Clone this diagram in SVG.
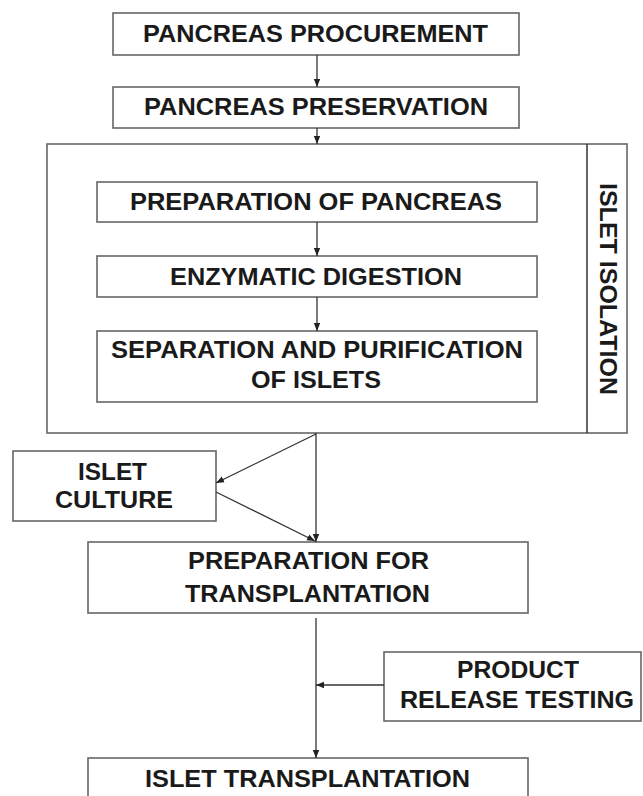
<svg xmlns="http://www.w3.org/2000/svg" width="643" height="796" viewBox="0 0 643 796">
<defs>
<style>
.box{fill:#fff;stroke:#666;stroke-width:1.6}
.t{font-family:"Liberation Sans",Arial,sans-serif;font-weight:bold;font-size:23px;fill:#1a1a1a}
.c{fill:none;stroke:#333;stroke-width:1.3}
</style>
<marker id="ah" markerUnits="userSpaceOnUse" markerWidth="8" markerHeight="8" viewBox="0 0 8 8" refX="8" refY="4" orient="auto">
<path d="M0,0.8 L8,4 L0,7.2 Z" fill="#222"/>
</marker>
</defs>
<rect width="643" height="796" fill="#fff"/>
<g id="procurement"><rect class="box" x="113" y="13" width="406" height="42"/><text class="t" x="143" y="42" textLength="345" lengthAdjust="spacingAndGlyphs">PANCREAS PROCUREMENT</text></g>
<g id="preservation"><rect class="box" x="113" y="87" width="406" height="41"/><text class="t" x="144" y="115" textLength="344" lengthAdjust="spacingAndGlyphs">PANCREAS PRESERVATION</text></g>
<g id="islet-isolation"><rect class="box" x="47" y="144" width="580" height="289"/><line x1="587" y1="144" x2="587" y2="433" stroke="#333" stroke-width="1.5"/><text class="t" transform="translate(600,183) rotate(90)" x="0" y="0" textLength="212" lengthAdjust="spacingAndGlyphs">ISLET ISOLATION</text></g>
<g id="prep-pancreas"><rect class="box" x="97" y="182" width="440" height="40"/><text class="t" x="130" y="210" textLength="372" lengthAdjust="spacingAndGlyphs">PREPARATION OF PANCREAS</text></g>
<g id="digestion"><rect class="box" x="97" y="256" width="440" height="41"/><text class="t" x="170" y="285" textLength="292" lengthAdjust="spacingAndGlyphs">ENZYMATIC DIGESTION</text></g>
<g id="separation"><rect class="box" x="97" y="331" width="440" height="71"/><text class="t" x="111" y="358" textLength="412" lengthAdjust="spacingAndGlyphs">SEPARATION AND PURIFICATION</text><text class="t" x="251" y="388" textLength="130" lengthAdjust="spacingAndGlyphs">OF ISLETS</text></g>
<g id="culture"><rect class="box" x="13" y="451" width="203" height="70"/><text class="t" x="78" y="480" textLength="69" lengthAdjust="spacingAndGlyphs">ISLET</text><text class="t" x="55" y="508" textLength="118" lengthAdjust="spacingAndGlyphs">CULTURE</text></g>
<g id="prep-transplant"><rect class="box" x="88" y="542" width="440" height="71"/><text class="t" x="188" y="569" textLength="241" lengthAdjust="spacingAndGlyphs">PREPARATION FOR</text><text class="t" x="185" y="602" textLength="245" lengthAdjust="spacingAndGlyphs">TRANSPLANTATION</text></g>
<g id="release-testing"><rect class="box" x="384" y="652" width="257" height="69"/><text class="t" x="457" y="678" textLength="122" lengthAdjust="spacingAndGlyphs">PRODUCT</text><text class="t" x="400" y="708" textLength="234" lengthAdjust="spacingAndGlyphs">RELEASE TESTING</text></g>
<g id="transplantation"><rect class="box" x="88" y="758" width="440" height="50"/><text class="t" x="145" y="787" textLength="325" lengthAdjust="spacingAndGlyphs">ISLET TRANSPLANTATION</text></g>
<g id="connectors">
<line class="c" x1="317" y1="55" x2="317" y2="87" marker-end="url(#ah)"/>
<line class="c" x1="317" y1="128" x2="317" y2="144" marker-end="url(#ah)"/>
<line class="c" x1="317" y1="222" x2="317" y2="256" marker-end="url(#ah)"/>
<line class="c" x1="317" y1="297" x2="317" y2="331" marker-end="url(#ah)"/>
<line class="c" x1="316" y1="433" x2="316" y2="542" marker-end="url(#ah)"/>
<line class="c" x1="316" y1="434" x2="216" y2="483" marker-end="url(#ah)"/>
<line class="c" x1="216" y1="492" x2="315" y2="541" marker-end="url(#ah)"/>
<line class="c" x1="316" y1="618" x2="316" y2="758" marker-end="url(#ah)"/>
<line class="c" x1="384" y1="685" x2="316" y2="685" marker-end="url(#ah)"/>
</g>
</svg>
